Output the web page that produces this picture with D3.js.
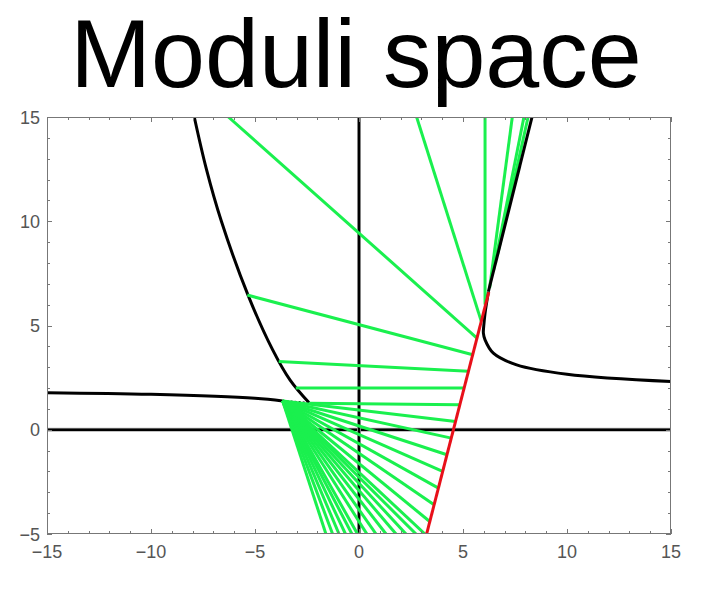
<!DOCTYPE html>
<html>
<head>
<meta charset="utf-8">
<script src="https://cdn.jsdelivr.net/npm/d3@7"></script>
<style>
  body { margin: 0; background: #fff; }
  svg { display: block; }
</style>
</head>
<body>
<script>
var width = 712,
    height = 594;

// tick values
var xTicks = [-15, -10, -5, 0, 5, 10, 15];
var yTicks = [-5, 0, 5, 10, 15];

// black curves
var leftUpperCurve = [[-7.92, 15], [-7.34, 12.51], [-6.62, 10.01], [-5.34, 6.47],
                      [-4.15, 3.83], [-3.32, 2.39], [-2.40, 1.29]];
var leftLowerCurve = [[-15, 1.78], [-10, 1.70], [-5, 1.51], [-3.67, 1.38]];
var joinSegment = [[-3.67, 1.38], [-2.40, 1.29]];
var rightCurve = [[15, 2.31], [10, 2.66], [7.58, 3.11], [6.46, 3.67], [6.06, 4.31],
                  [5.98, 4.63], [6.0, 5.0], [6.06, 5.59], [6.22, 6.62]];
var rightUpper = [[6.22, 6.62], [8.32, 15]];

// red segment
var redLine = [[3.25, -5], [6.24, 6.6]];

// green segments: start points and end points
var greenFrom = [[-6.28, 15], [2.77, 15], [6.06, 15], [7.37, 15], [7.93, 15], [8.13, 15],
                 [-5.37, 6.46], [-3.86, 3.27], [-3.04, 2.0], [-2.40, 1.27]];
var greenTo = [[5.67, 4.4], [5.88, 5.2], [6.06, 6.0], [6.28, 6.8], [6.46, 7.6], [6.66, 8.4],
               [5.47, 3.6], [5.26, 2.8], [5.06, 2.0], [4.85, 1.2]];

// fan from one point
var fanApex = [-3.67, 1.38];
var fanRedY = [0.4, -0.4, -1.2, -2.0, -2.8, -3.6, -4.4];
var fanRedX = [4.64, 4.44, 4.23, 4.02, 3.82, 3.61, 3.40];
var fanBottomX = [3.17, 2.74, 2.26, 1.78, 1.30, 0.82, 0.38, -0.07, -0.34, -0.65, -0.96, -1.27, -1.59];

var mLeft = 47, mRight = 671, mTop = 117, mBottom = 534;

var x = d3.scaleLinear().domain([-15, 15]).range([mLeft, mRight]);
var y = d3.scaleLinear().domain([-5, 15]).range([mBottom, mTop]);

var svg = d3.select("body").append("svg")
    .attr("width", width)
    .attr("height", height);

// titre
svg.append("text")
    .attr("x", 356)
    .attr("y", 87)
    .attr("text-anchor", "middle")
    .style("font-family", "Liberation Sans, Arial, sans-serif")
    .style("font-size", "97px")
    .style("fill", "#000")
    .text("Moduli space");

svg.append("clipPath").attr("id", "clip")
    .append("rect")
    .attr("x", mLeft).attr("y", mTop)
    .attr("width", mRight - mLeft).attr("height", mBottom - mTop);

var g = svg.append("g").attr("clip-path", "url(#clip)");

var line = d3.line().x(function (d) { return x(d[0]); }).y(function (d) { return y(d[1]); });
var smooth = d3.line().x(function (d) { return x(d[0]); }).y(function (d) { return y(d[1]); })
    .curve(d3.curveCatmullRom.alpha(0.5));

// axes lines (gray halo + black)
[[[-15, 0], [15, 0]], [[0, -5], [0, 15]]].forEach(function (seg) {
    g.append("path").attr("d", line(seg)).attr("stroke", "#b0b0b0").attr("stroke-width", 4).attr("fill", "none");
    g.append("path").attr("d", line(seg)).attr("stroke", "#000").attr("stroke-width", 2.5).attr("fill", "none");
});

// black curves
[leftUpperCurve, leftLowerCurve, rightCurve].forEach(function (c) {
    g.append("path").attr("d", smooth(c))
        .attr("fill", "none").attr("stroke", "#000").attr("stroke-width", 3);
});
g.append("path").attr("d", line(joinSegment))
    .attr("fill", "none").attr("stroke", "#000").attr("stroke-width", 2).attr("stroke-dasharray", "2,2");

// green lines
var greenSegs = [];
for (var i = 0; i < greenFrom.length; i++) {
    greenSegs.push([greenFrom[i], greenTo[i]]);
}
for (var j = 0; j < fanRedY.length; j++) {
    greenSegs.push([fanApex, [fanRedX[j], fanRedY[j]]]);
}
fanBottomX.forEach(function (bx) {
    greenSegs.push([fanApex, [bx, -5]]);
});

g.selectAll("path.green")
    .data(greenSegs)
    .join("path")
    .attr("class", "green")
    .attr("d", line)
    .attr("fill", "none")
    .attr("stroke", "#1af04e")
    .attr("stroke-width", 3);

// red
g.append("path").attr("d", line(redLine))
    .attr("fill", "none").attr("stroke", "#e8101a").attr("stroke-width", 3);

// black upper right part
g.append("path").attr("d", line(rightUpper))
    .attr("fill", "none").attr("stroke", "#000").attr("stroke-width", 3);

// frame
svg.append("rect")
    .attr("x", mLeft + 0.5).attr("y", mTop + 0.5)
    .attr("width", mRight - mLeft - 1).attr("height", mBottom - mTop - 1)
    .attr("fill", "none").attr("stroke", "#777").attr("stroke-width", 1);

// ticks: majors and minors on all sides
var xMinor = d3.range(-15, 16, 1), yMinor = d3.range(-5, 16, 1);
var tk = svg.append("g").attr("stroke", "#777").attr("stroke-width", 1);
xMinor.forEach(function (v) {
    var len = (v % 5 === 0) ? 5 : 3;
    var px = Math.round(x(v)) + 0.5;
    tk.append("line").attr("x1", px).attr("x2", px).attr("y1", mBottom).attr("y2", mBottom - len);
    tk.append("line").attr("x1", px).attr("x2", px).attr("y1", mTop).attr("y2", mTop + len);
});
yMinor.forEach(function (v) {
    var len = (v % 5 === 0) ? 5 : 3;
    var py = Math.round(y(v)) + 0.5;
    tk.append("line").attr("y1", py).attr("y2", py).attr("x1", mLeft).attr("x2", mLeft + len);
    tk.append("line").attr("y1", py).attr("y2", py).attr("x1", mRight).attr("x2", mRight - len);
});

// labels
function fmt(v) { return v < 0 ? "\u2212" + Math.abs(v) : String(v); }

svg.selectAll("text.xl")
    .data(xTicks)
    .join("text")
    .attr("class", "xl")
    .attr("x", function (d) { return x(d); })
    .attr("y", 558)
    .attr("text-anchor", "middle")
    .style("font-family", "Liberation Sans, Arial, sans-serif")
    .style("font-size", "18px")
    .style("fill", "#555")
    .text(fmt);

svg.selectAll("text.yl")
    .data(yTicks)
    .join("text")
    .attr("class", "yl")
    .attr("x", 40)
    .attr("y", function (d) { return y(d) + 6.5; })
    .attr("text-anchor", "end")
    .style("font-family", "Liberation Sans, Arial, sans-serif")
    .style("font-size", "18px")
    .style("fill", "#555")
    .text(fmt);
</script>
</body>
</html>
